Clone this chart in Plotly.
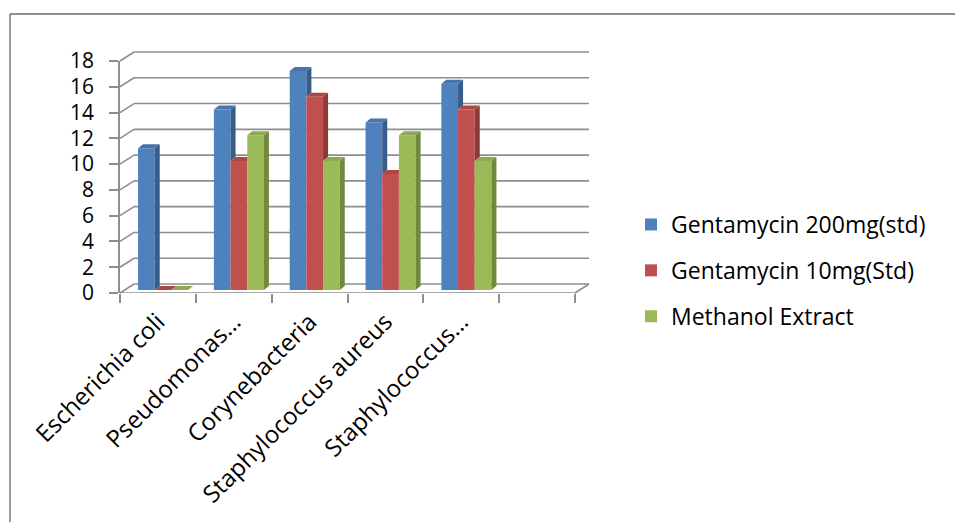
import plotly.graph_objects as go

# ---- data -------------------------------------------------------------
categories = ["Escherichia coli", "Pseudomonas…", "Corynebacteria",
              "Staphylococcus aureus", "Staphylococcus…"]
series_names = ["Gentamycin 200mg(std)", "Gentamycin 10mg(Std)", "Methanol Extract"]
gentamycin_200 = [11, 14, 17, 13, 16]
gentamycin_10 = [0, 10, 15, 9, 14]
methanol_extract = [0, 12, 10, 12, 10]
y_ticks = list(range(0, 19, 2))

series_values = [gentamycin_200, gentamycin_10, methanol_extract]
front_colors = ["#4F81BD", "#C0504D", "#9BBB59"]
side_colors = ["#385D8A", "#8C3A38", "#71893F"]
top_colors = ["#4674AC", "#AE4744", "#8CAA4F"]

# ---- geometry of the pseudo-3D frame (pixels) ---------------------------
FIG_W, FIG_H = 955, 522
PLOT_L, PLOT_R, PLOT_T, PLOT_B = 120, 575, 61, 293
N_SLOTS = 6                 # one spare, empty slot at the right end
Y_MAX = 18
WALL_DX, WALL_DY = 14, 9    # depth of the side wall / floor
BAR_LIFT = 3                # bars stand a little behind the front edge
FACE_DX, FACE_DY = 5, 4     # depth of each column
GRID_COLOR = "#8E8E8E"

px_per_slot = (PLOT_R - PLOT_L) / N_SLOTS
px_per_unit = (PLOT_B - PLOT_T) / Y_MAX
bar_width = 0.22
bar_offsets = [-0.262, -0.042, 0.178]
fdx = FACE_DX / px_per_slot
fdy = FACE_DY / px_per_unit
lift = BAR_LIFT / px_per_unit


def px_x(p):
    return (p - PLOT_L) / (PLOT_R - PLOT_L)


def px_y(p):
    return (PLOT_B - p) / (PLOT_B - PLOT_T)


fig = go.Figure()

# front faces of the columns
for j, name in enumerate(series_names):
    fig.add_trace(go.Bar(
        x=list(range(len(categories))), y=series_values[j], name=name,
        width=bar_width, offset=bar_offsets[j], yaxis="y2",
        marker=dict(color=front_colors[j], line=dict(width=0)),
        legendgroup=name,
    ))

# side and top faces, hiding the parts covered by the neighbouring column
for j in range(len(series_names)):
    side_x, side_y, top_x, top_y = [], [], [], []
    for i in range(len(categories)):
        v = series_values[j][i]
        v_next = series_values[j + 1][i] if j + 1 < len(series_values) else None
        xl = i + bar_offsets[j]
        xr = xl + bar_width
        if v_next is None:
            side_x += [xr, xr + fdx, xr + fdx, xr, xr, None]
            side_y += [0, fdy, v + fdy, v, 0, None]
        elif v > v_next:
            side_x += [xr, xr + fdx, xr + fdx, xr, xr, None]
            side_y += [v_next, v_next + fdy, v + fdy, v, v_next, None]
        if v_next is not None and v_next > v:
            top_x += [xl, xr, xr, xl + fdx, xl, None]
            top_y += [v, v, v + fdy, v + fdy, v, None]
        else:
            top_x += [xl, xr, xr + fdx, xl + fdx, xl, None]
            top_y += [v, v, v + fdy, v + fdy, v, None]
    for fx, fy, col in ((side_x, side_y, side_colors[j]), (top_x, top_y, top_colors[j])):
        if fx:
            fig.add_trace(go.Scatter(
                x=fx, y=fy, yaxis="y2", mode="lines", fill="toself",
                fillcolor=col, line=dict(width=0, color=col),
                hoverinfo="skip", showlegend=False,
            ))

# the front value axis carries the floor's front edge (keeps the axis in use)
fig.add_trace(go.Scatter(
    x=[-0.5, N_SLOTS - 0.5], y=[0, 0], mode="lines",
    line=dict(color=GRID_COLOR, width=1.6), hoverinfo="skip", showlegend=False,
    cliponaxis=False,
))

# walls: back-wall gridlines and side-wall diagonals
shapes = []
dxp = WALL_DX / (PLOT_R - PLOT_L)
dyp = WALL_DY / (PLOT_B - PLOT_T)
for v in y_ticks:
    yp = v / Y_MAX
    shapes.append(dict(type="line", xref="paper", yref="paper",
                       x0=dxp, x1=1 + dxp, y0=yp + dyp, y1=yp + dyp,
                       line=dict(color=GRID_COLOR, width=1.6), layer="below"))
    shapes.append(dict(type="line", xref="paper", yref="paper",
                       x0=0, x1=dxp, y0=yp, y1=yp + dyp,
                       line=dict(color=GRID_COLOR, width=1.6), layer="below"))
# right edge of the floor
shapes.append(dict(type="line", xref="paper", yref="paper",
                   x0=1, x1=1 + dxp, y0=0, y1=dyp,
                   line=dict(color=GRID_COLOR, width=1.6), layer="below"))
# outer chart border (top and left edges)
shapes.append(dict(type="line", xref="paper", yref="paper",
                   x0=px_x(10), x1=px_x(FIG_W + 5), y0=px_y(14), y1=px_y(14),
                   line=dict(color=GRID_COLOR, width=1.8)))
shapes.append(dict(type="line", xref="paper", yref="paper",
                   x0=px_x(10), x1=px_x(10), y0=px_y(14), y1=px_y(FIG_H + 5),
                   line=dict(color=GRID_COLOR, width=1.8)))

font_family = "Open Sans, Lato, sans-serif"
slot_edges = [k - 0.5 for k in range(N_SLOTS + 1)]
# two no-break spaces keep the value labels clear of the tick marks
y_tick_text = [f"{v}\u00a0\u00a0" for v in y_ticks]

fig.update_layout(
    width=FIG_W, height=FIG_H, autosize=False,
    margin=dict(l=PLOT_L, r=FIG_W - PLOT_R, t=PLOT_T, b=FIG_H - PLOT_B, pad=0),
    paper_bgcolor="white", plot_bgcolor="rgba(0,0,0,0)",
    barmode="overlay", shapes=shapes, showlegend=True,
    font=dict(family=font_family, color="black"),
    xaxis=dict(
        range=[-0.5, N_SLOTS - 0.5], tickmode="array",
        tickvals=list(range(len(categories))), ticktext=categories,
        tickangle=-45, ticks="", showgrid=False, zeroline=False,
        showline=False,
        tickfont=dict(size=24, family=font_family, color="black"),
        ticklabelstandoff=9,
        minor=dict(tickmode="array", tickvals=slot_edges, ticks="outside",
                   ticklen=9, tickwidth=1.6, tickcolor=GRID_COLOR, showgrid=False),
        fixedrange=True,
    ),
    yaxis=dict(
        range=[0, Y_MAX], tickmode="array", tickvals=y_ticks, ticktext=y_tick_text,
        ticks="outside", ticklen=9, tickwidth=1.6, tickcolor=GRID_COLOR,
        showline=True, linecolor=GRID_COLOR, linewidth=1.6,
        showgrid=False, zeroline=False, showticklabels=True,
        tickfont=dict(size=21, family=font_family, color="black"),
        fixedrange=True,
    ),
    yaxis2=dict(
        range=[-lift, Y_MAX - lift], overlaying="y", visible=False,
        fixedrange=True,
    ),
    legend=dict(
        xref="container", yref="container", x=631 / FIG_W, y=1 - 203 / FIG_H,
        xanchor="left", yanchor="top", tracegroupgap=13,
        font=dict(size=23, family=font_family, color="black"),
        bgcolor="rgba(0,0,0,0)",
    ),
)

fig.write_html("out.html")
